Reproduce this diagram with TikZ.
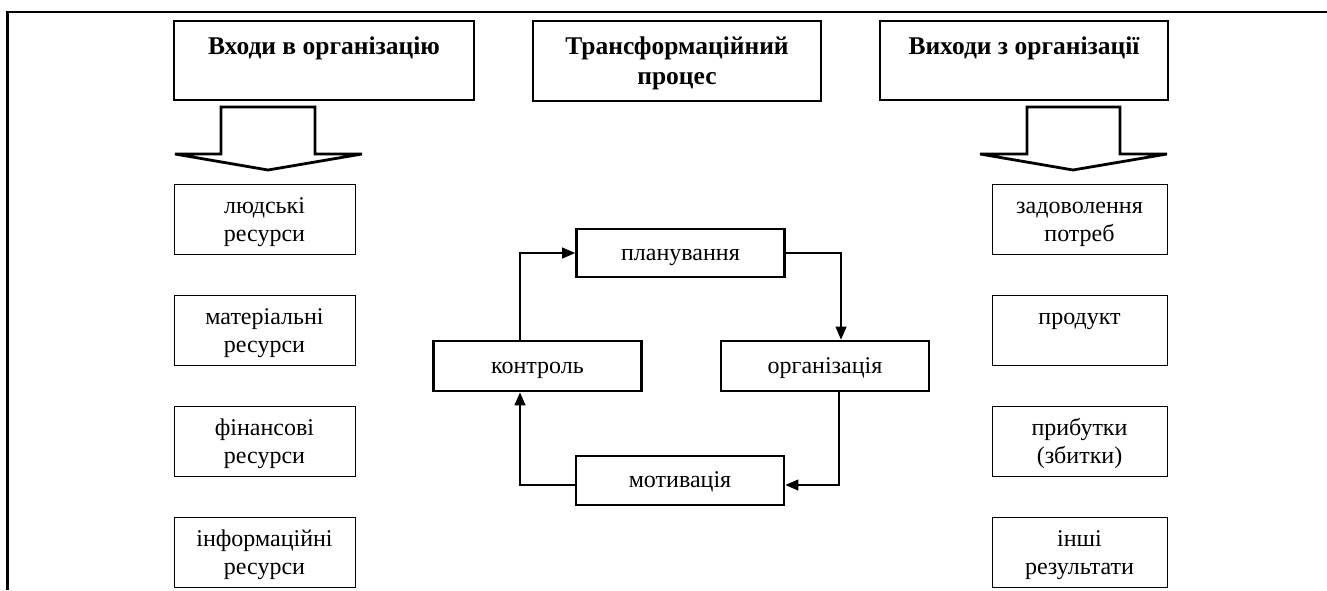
\documentclass[tikz,border=0pt]{standalone}
\usepackage{fontspec}
\setmainfont{Liberation Serif}
\usetikzlibrary{arrows.meta}
\begin{document}
\begin{tikzpicture}[x=1pt,y=-1pt,
  every node/.style={font=\fontsize{24}{28.5}\selectfont, inner sep=0pt, align=center},
  headbox/.style={draw, line width=2.8pt, font=\fontsize{25.5}{29.5}\selectfont\bfseries, text height=49pt, text depth=3pt},
  resbox/.style={draw, line width=1pt, minimum width=181pt, minimum height=70pt, text height=48pt, text depth=3pt},
  outbox/.style={resbox, minimum width=175pt},
  procbox/.style={draw, line width=2.8pt, minimum width=208pt, minimum height=49pt, text height=18pt, text depth=4pt},
  conn/.style={line width=1.3pt, -{Triangle[length=13pt,width=11pt]}},
  blockarrow/.style={draw, fill=white, line width=2.8pt, line join=miter},
  frametop/.style={line width=2.3pt},
  frameleft/.style={line width=3pt}]
\useasboundingbox (0,0) rectangle (1327,590);
% frame
\draw[frameleft] (7,590) -- (7,10.85);
\draw[frametop] (5.5,12) -- (1327,12);
% headers
\node[headbox, minimum width=300pt, minimum height=79pt] (h1) at (324,60.5) {Входи в організацію\\\mbox{}};
\node[headbox, minimum width=288pt, minimum height=80pt] (h2) at (677,61) {Трансформаційний\\процес};
\node[headbox, minimum width=288pt, minimum height=79pt] (h3) at (1024,60.5) {Виходи з організації\\\mbox{}};
% block arrows
\draw[blockarrow] (221,107) -- (315,107) -- (315,154) -- (362,154) -- (268,170) -- (175,154) -- (221,154) -- cycle;
\draw[blockarrow] (1027,107) -- (1120,107) -- (1120,154) -- (1167,154) -- (1073,170) -- (980,154) -- (1027,154) -- cycle;
% inputs
\node[resbox] (in1) at (264.5,219) {людські\\ресурси};
\node[resbox] (in2) at (264.5,330) {матеріальні\\ресурси};
\node[resbox] (in3) at (264.5,441) {фінансові\\ресурси};
\node[resbox] (in4) at (264.5,552) {інформаційні\\ресурси};
% outputs
\node[outbox] (out1) at (1079.5,219) {задоволення\\потреб};
\node[outbox] (out2) at (1079.5,330) {продукт\\\mbox{}};
\node[outbox] (out3) at (1079.5,441) {прибутки\\(збитки)};
\node[outbox] (out4) at (1079.5,552) {інші\\результати};
% process
\node[procbox, minimum height=48pt] (plan) at (680.5,253) {планування};
\node[procbox, minimum height=50pt] (ctrl) at (537.5,366) {контроль};
\node[procbox, minimum height=50pt] (org) at (825,366) {організація};
\node[procbox] (mot) at (680,480.5) {мотивація};
% cycle connectors
\draw[conn] (plan.east) -| ([xshift=16pt]org.north);
\draw[conn] ([xshift=14pt]org.south) |- ([yshift=-4.5pt]mot.east);
\draw[conn] ([yshift=-4.5pt]mot.west) -| ([xshift=-17.5pt]ctrl.south);
\draw[conn] ([xshift=-17.5pt]ctrl.north) |- (plan.west);
\end{tikzpicture}
\end{document}
